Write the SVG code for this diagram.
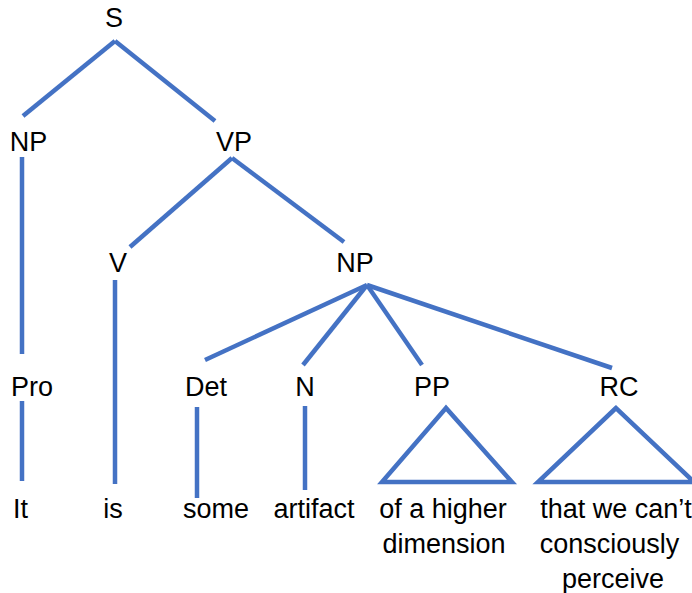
<svg xmlns="http://www.w3.org/2000/svg" width="692" height="593" viewBox="0 0 692 593">
<style>
text{font-family:"Liberation Sans",Arial,sans-serif;font-size:27px;fill:#000;text-anchor:middle}
.e{stroke:#4472C4;stroke-width:4.5;fill:none}
</style>
<rect width="692" height="593" fill="#fff"/>
<g id="connectors">
<line class="e" x1="115" y1="41" x2="23" y2="116"/>
<line class="e" x1="115" y1="41" x2="215" y2="121"/>
<line class="e" x1="22" y1="157" x2="22" y2="354"/>
<line class="e" x1="232" y1="158" x2="130" y2="247"/>
<line class="e" x1="232" y1="158" x2="344" y2="242"/>
<line class="e" x1="115" y1="280" x2="115" y2="484"/>
<line class="e" x1="367" y1="285" x2="205" y2="360"/>
<line class="e" x1="367" y1="285" x2="303" y2="365"/>
<line class="e" x1="367" y1="285" x2="422" y2="365"/>
<line class="e" x1="367" y1="285" x2="612" y2="368"/>
<line class="e" x1="22" y1="401" x2="22" y2="481"/>
<line class="e" x1="197" y1="407" x2="197" y2="498"/>
<line class="e" x1="305" y1="406" x2="305" y2="490"/>
<polygon class="e" points="446,408 382,482 512,482"/>
<polygon class="e" points="616,408 538,482 694,482"/>
</g>
<g id="S"><text x="114" y="27">S</text></g>
<g id="NP1"><text x="28.5" y="151">NP</text></g>
<g id="VP"><text x="234" y="151">VP</text></g>
<g id="V"><text x="118" y="272">V</text></g>
<g id="NP2"><text x="355" y="272">NP</text></g>
<g id="Pro"><text x="32" y="396">Pro</text></g>
<g id="Det"><text x="206" y="396">Det</text></g>
<g id="N"><text x="305" y="396">N</text></g>
<g id="PP"><text x="432" y="396">PP</text></g>
<g id="RC"><text x="619" y="396">RC</text></g>
<g id="It"><text x="20.5" y="518">It</text></g>
<g id="is"><text x="113" y="518">is</text></g>
<g id="some"><text x="216" y="518">some</text></g>
<g id="artifact"><text x="314" y="518">artifact</text></g>
<g id="pp-text"><text x="443" y="518">of a higher</text><text x="444" y="553">dimension</text></g>
<g id="rc-text"><text x="616" y="518">that we can’t</text><text x="609.5" y="553">consciously</text><text x="613" y="588">perceive</text></g>
</svg>
